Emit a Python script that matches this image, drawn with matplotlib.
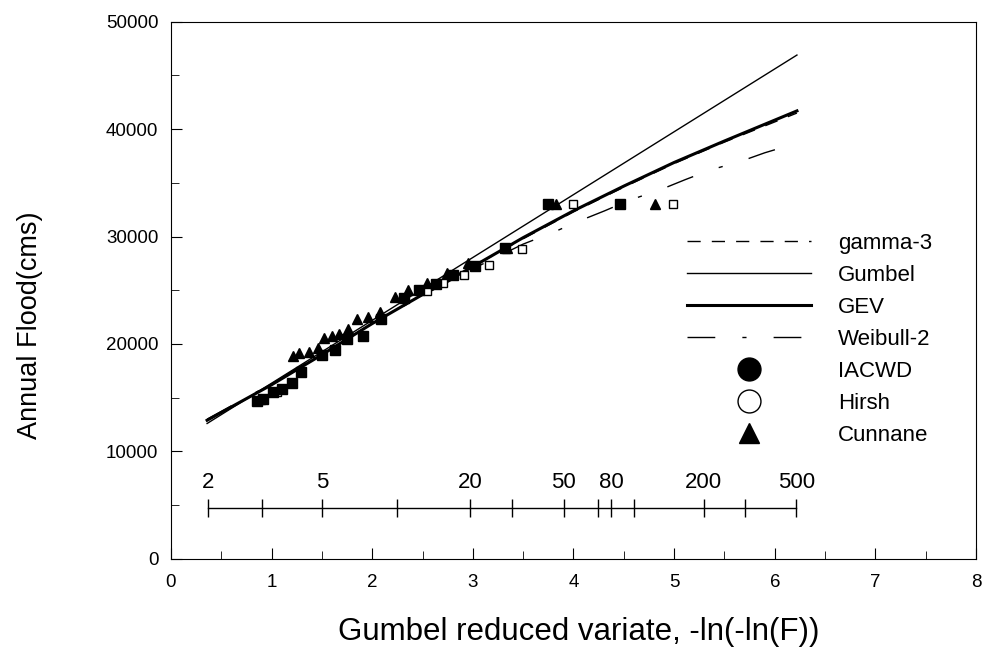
import numpy as np
import matplotlib
matplotlib.use("Agg")
from matplotlib import pyplot as plt
from matplotlib.lines import Line2D
from matplotlib.ticker import MultipleLocator

plt.rcParams['font.family'] = ['Liberation Sans', 'DejaVu Sans']

# fitted distributions (reduced variate vs. flood)
gumbel_x = [0.36, 6.22]
gumbel_y = [12600, 46900]

gev_x = [0.36, 1.0, 1.5, 2.0, 2.5, 3.0, 3.5, 4.0, 4.5, 5.0, 5.5, 6.22]
gev_y = [12900, 16200, 19000, 21900, 24600, 27200, 29900, 32400, 34700, 36900, 38900, 41700]

gamma_x = [0.36, 1.0, 1.5, 2.0, 2.5, 3.0, 3.5, 4.0, 4.5, 5.0, 5.5, 6.22]
gamma_y = [12900, 16200, 19000, 21900, 24600, 27200, 29800, 32300, 34600, 36800, 38800, 41500]

weib_x = [0.36, 1.0, 1.5, 2.0, 2.5, 3.0, 3.5, 3.8, 4.07, 4.31, 4.56, 4.86, 5.11, 5.36, 5.66, 5.9, 6.22]
weib_y = [13000, 16300, 19100, 21900, 24500, 27000, 29300, 30400, 31500, 32400, 33400, 34350, 35300, 36200, 37000, 37800, 38700]

# plotting positions
iacwd_x = [0.86, 0.92, 1.01, 1.10, 1.20, 1.29, 1.50, 1.63, 1.75, 1.91, 2.09, 2.32, 2.47, 2.63, 2.80, 3.02, 3.32, 3.75, 4.46]
iacwd_y = [14700, 14900, 15500, 15800, 16400, 17400, 19000, 19400, 20500, 20700, 22300, 24300, 25000, 25600, 26400, 27300, 28900, 33000, 33000]

hirsh_x = [0.90, 1.05, 2.08, 2.54, 2.70, 2.91, 3.16, 3.49, 4.00, 4.99]
hirsh_y = [14800, 15500, 22300, 24900, 25700, 26400, 27400, 28800, 33000, 33000]

cunnane_x = [1.21, 1.27, 1.37, 1.46, 1.52, 1.60, 1.67, 1.76, 1.85, 1.96, 2.08, 2.23, 2.36, 2.54, 2.74, 2.95, 3.34, 3.83, 4.81]
cunnane_y = [18900, 19200, 19300, 19600, 20600, 20700, 20900, 21400, 22300, 22500, 23000, 24400, 25000, 25700, 26600, 27500, 28900, 33000, 33000]

# return period scale
rp_ticks = [2, 3, 5, 10, 20, 30, 50, 70, 80, 100, 200, 300, 500]
rp_labels = [2, 5, 20, 50, 80, 200, 500]

gamma_dash = (9.5, 8)
weib_dash = (20, 19.5, 3, 19.5)

fig = plt.figure(figsize=(9.82, 6.59), dpi=100)
ax = fig.add_axes([0.174, 0.152, 0.820, 0.815])

ax.plot(gamma_x, gamma_y, color='black', lw=1.0, dashes=gamma_dash)
ax.plot(gumbel_x, gumbel_y, color='black', lw=1.0)
ax.plot(gev_x, gev_y, color='black', lw=2.2)
ax.plot(weib_x, weib_y, color='black', lw=1.0, dashes=weib_dash)

ax.plot(hirsh_x, hirsh_y, ls='none', marker='s', ms=6, mfc='white', mec='black', mew=1.0)
ax.plot(iacwd_x, iacwd_y, ls='none', marker='s', ms=6.5, color='black')
ax.plot(cunnane_x, cunnane_y, ls='none', marker='^', ms=7.5, color='black')

# return period axis drawn inside the plot
def gumbel_variate(T):
    return -np.log(-np.log(1 - 1 / np.asarray(T, dtype=float)))

rp_level = 4750
tx = gumbel_variate(rp_ticks)
ax.plot([tx[0], tx[-1]], [rp_level, rp_level], color='black', lw=1.0)
ax.plot(tx, [rp_level] * len(tx), ls='none', marker='|', ms=13, mew=1.0, color='black')
for T in rp_labels:
    ax.text(gumbel_variate(T), rp_level + 1400, str(T), ha='center', va='bottom', fontsize=16)

ax.set_xlim(0, 8)
ax.set_ylim(0, 50000)
ax.xaxis.set_major_locator(MultipleLocator(1))
ax.xaxis.set_minor_locator(MultipleLocator(0.5))
ax.yaxis.set_major_locator(MultipleLocator(10000))
ax.yaxis.set_minor_locator(MultipleLocator(5000))
ax.tick_params(which='both', direction='in', labelsize=13.5, top=False, right=False)
ax.tick_params(which='major', length=8)
ax.tick_params(which='minor', length=6)
ax.tick_params(axis='x', pad=11)
ax.tick_params(axis='y', pad=9)

ax.set_xlabel('Gumbel reduced variate, -ln(-ln(F))', fontsize=22.5, va='center')
ax.set_ylabel('Annual Flood(cms)', fontsize=19.5, va='center')
ax.xaxis.set_label_coords(0.507, -0.136)
ax.yaxis.set_label_coords(-0.175, 0.434)

handles = [
    Line2D([], [], color='black', lw=1.0, dashes=gamma_dash),
    Line2D([], [], color='black', lw=1.0),
    Line2D([], [], color='black', lw=2.2),
    Line2D([], [], color='black', lw=1.0, dashes=weib_dash),
    Line2D([], [], ls='none', marker='o', ms=16.5, color='black'),
    Line2D([], [], ls='none', marker='o', ms=16.5, mfc='white', mec='black', mew=1.0),
    Line2D([], [], ls='none', marker='^', ms=14, color='black'),
]
labels = ['gamma-3', 'Gumbel', 'GEV', 'Weibull-2', 'IACWD', 'Hirsh', 'Cunnane']
ax.legend(handles, labels, loc='upper left', bbox_to_anchor=(0.627, 0.627), frameon=False,
          fontsize=16, handlelength=5.6, handletextpad=1.2, labelspacing=0.49, borderpad=0)

fig.savefig('out.png', dpi=100)
